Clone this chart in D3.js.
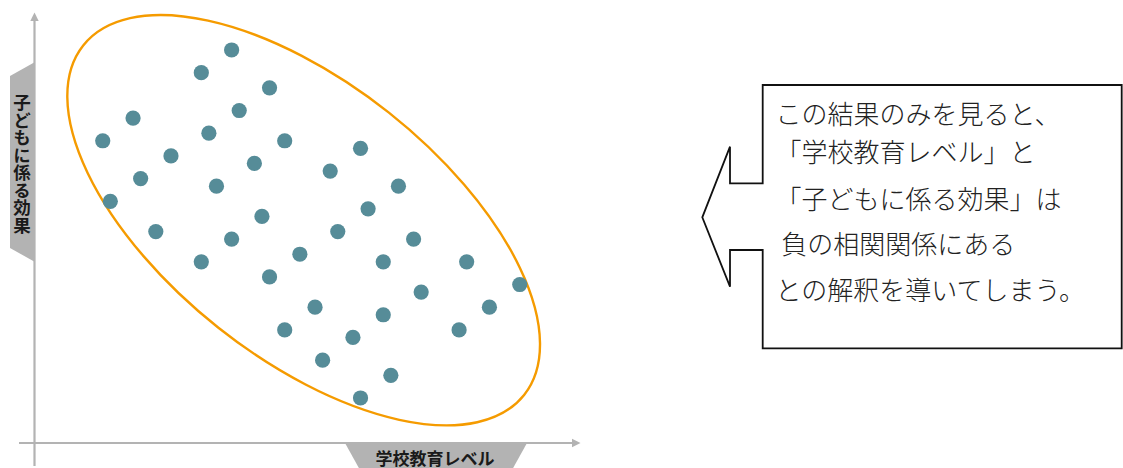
<!DOCTYPE html>
<html>
<head>
<meta charset="utf-8">
<script src="https://cdn.jsdelivr.net/npm/d3@7"></script>
<style>
  html, body { margin: 0; padding: 0; background: #ffffff; }
  svg { display: block; }
</style>
</head>
<body>
<svg id="chart" width="1123" height="468"></svg>
<script>
// ---- data ----
const levelX  = [26, 22, 31, 27, 13, 23, 9, 33, 43, 18, 29, 39, 14, 24, 48, 10, 44, 30, 16, 40, 26, 50, 35, 22, 46, 57, 31, 64, 51, 37, 60, 46, 33, 56, 42, 38, 47, 43];
const effectY = [54, 51, 49, 46, 45, 43, 42, 42, 41, 40, 39, 38, 37, 36, 36, 34, 33, 32, 30, 30, 29, 29, 27, 26, 26, 26, 24, 23, 22, 20, 20, 19, 17, 17, 16, 13, 11, 8];
const xAxisLabel = "学校教育レベル";
const yAxisLabel = "子どもに係る効果";
const calloutLines = ["この結果のみを見ると、", "「学校教育レベル」と", "「子どもに係る効果」は", " 負の相関関係にある", "との解釈を導いてしまう。"];
// ellipse enclosing the cloud: [centerX, centerY, radiusX, radiusY, angleDeg] in data units
const ellipseSpec = [35.5, 31.5, 37.1, 18.1, 38.4];

// ---- scales ----
const x = d3.scaleLinear().domain([0, 72]).range([34.5, 580.4]);
const y = d3.scaleLinear().domain([0, 60]).range([458.5, 4.6]);

const svg = d3.select("#chart");
const axisColor = "#b3b3b3";

// ---- axes (arrows) ----
const gAx = svg.append("g");
gAx.append("line").attr("x1", 34.5).attr("x2", 34.5).attr("y1", 466).attr("y2", 20)
  .attr("stroke", axisColor).attr("stroke-width", 2.2);
gAx.append("path").attr("d", "M30.3,21 L38.7,21 L34.5,12.5 Z").attr("fill", axisColor);
gAx.append("line").attr("x1", 19).attr("x2", 573).attr("y1", 443).attr("y2", 443)
  .attr("stroke", axisColor).attr("stroke-width", 2.2);
gAx.append("path").attr("d", "M572,438.8 L572,447.2 L580.5,443 Z").attr("fill", axisColor);

// ---- axis label tabs ----
svg.append("path").attr("d", "M35,62 L10,76 L10,248 L35,262 Z").attr("fill", axisColor);
svg.append("text")
  .attr("x", 22).attr("y", 164)
  .attr("text-anchor", "middle")
  .attr("dominant-baseline", "central")
  .style("writing-mode", "vertical-rl")
  .style("font-family", "'Noto Sans CJK JP', sans-serif")
  .style("font-weight", "bold")
  .style("font-size", "17.5px")
  .attr("fill", "#1a1a1a")
  .text(yAxisLabel);

svg.append("path").attr("d", "M345,443 L527,443 L512,470 L360,470 Z").attr("fill", axisColor);
svg.append("text")
  .attr("x", 435).attr("y", 457)
  .attr("text-anchor", "middle")
  .attr("dominant-baseline", "central")
  .style("font-family", "'Noto Sans CJK JP', sans-serif")
  .style("font-weight", "bold")
  .style("font-size", "17px")
  .attr("fill", "#1a1a1a")
  .text(xAxisLabel);

// ---- ellipse ----
const [ecx, ecy, erx, ery, eang] = ellipseSpec;
const pxPerUnit = x(1) - x(0);
svg.append("ellipse")
  .attr("cx", 0).attr("cy", 0)
  .attr("rx", erx * pxPerUnit).attr("ry", ery * pxPerUnit)
  .attr("transform", `translate(${x(ecx)},${y(ecy)}) rotate(${eang})`)
  .attr("fill", "none").attr("stroke", "#f59b00").attr("stroke-width", 2.4);

// ---- dots ----
const pts = levelX.map((v, i) => ({ lx: v, ey: effectY[i] }));
svg.append("g").selectAll("circle").data(pts).join("circle")
  .attr("cx", d => x(d.lx)).attr("cy", d => y(d.ey))
  .attr("r", 7.6).attr("fill", "#568c98");

// ---- callout ----
svg.append("path")
  .attr("d", "M762.7,85 H1121.7 V348.3 H762.7 V250 H730 V286.7 L702.3,217.3 L730,146.7 V183.3 H762.7 Z")
  .attr("fill", "#ffffff").attr("stroke", "#111111").attr("stroke-width", 1.8)
  .attr("stroke-linejoin", "miter");

const lineCenters = [112, 150, 197, 242, 288];
svg.append("g").selectAll("text").data(calloutLines).join("text")
  .attr("x", 775.5)
  .attr("y", (d, i) => lineCenters[i])
  .attr("dominant-baseline", "central")
  .attr("xml:space", "preserve")
  .style("white-space", "pre")
  .style("font-family", "'Noto Sans CJK JP', sans-serif")
  .style("font-size", "26px")
  .style("font-weight", "300")
  .attr("fill", "#222222")
  .text(d => d);
</script>
</body>
</html>
